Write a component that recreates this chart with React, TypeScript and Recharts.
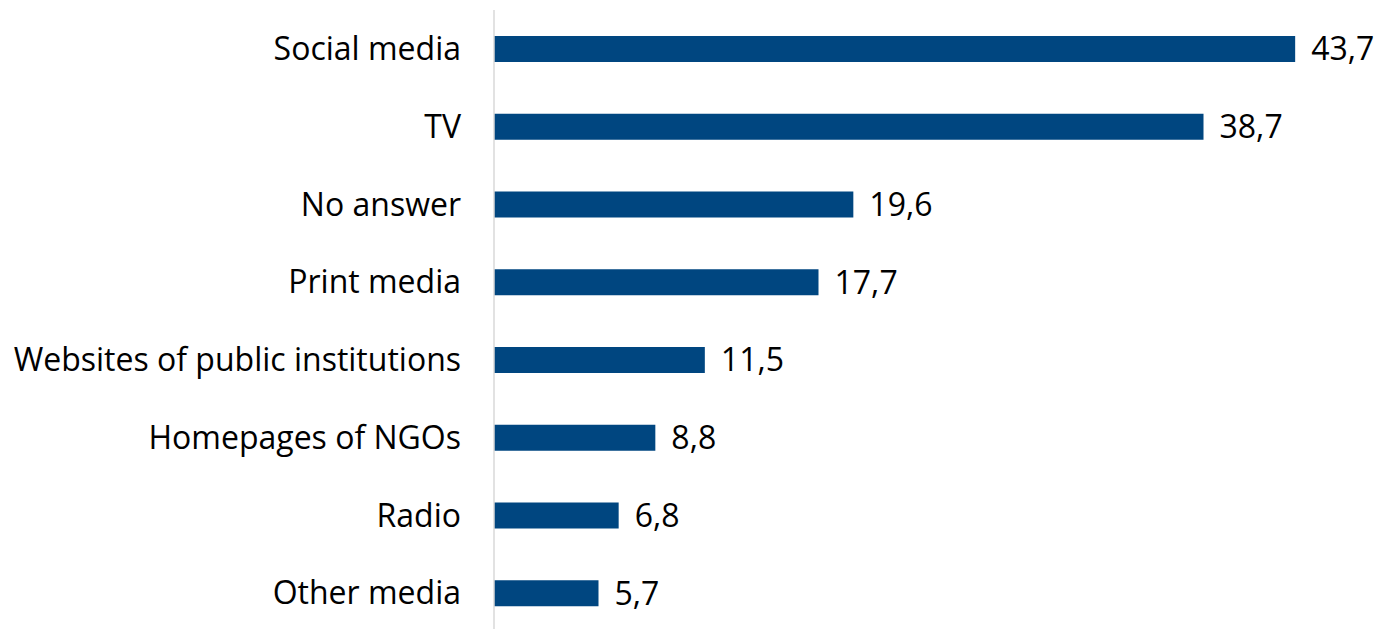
import { BarChart, Bar, XAxis, YAxis, LabelList } from 'recharts';

const categories = [
    'Social media',
    'TV',
    'No answer',
    'Print media',
    'Websites of public institutions',
    'Homepages of NGOs',
    'Radio',
    'Other media',
];
const values = [43.7, 38.7, 19.6, 17.7, 11.5, 8.8, 6.8, 5.7];

const data = categories.map((name, i) => ({ name, value: values[i] }));

const font = '"Open Sans", sans-serif';

export default function App() {
    return (
        <div style={{ position: 'absolute', left: 0, top: 0 }}>
            <BarChart
                width={1377}
                height={632}
                data={data}
                layout="vertical"
                margin={{ top: 10, right: 3, left: 0, bottom: 0 }}
            >
                <XAxis type="number" domain={[0, 48]} hide />
                <YAxis
                    type="category"
                    dataKey="name"
                    width={494}
                    axisLine={{ stroke: '#d9d9d9', strokeWidth: 1.5 }}
                    tickLine={false}
                    tickSize={0}
                    tickMargin={33}
                    tick={{ fill: '#000', fontSize: 32, fontFamily: font }}
                    interval={0}
                />
                <Bar dataKey="value" fill="#004680" barSize={26} isAnimationActive={false}>
                    <LabelList
                        dataKey="value"
                        position="right"
                        offset={16}
                        formatter={(v: number) => v.toFixed(1).replace('.', ',')}
                        style={{ fill: '#000', fontSize: 32, fontFamily: font }}
                    />
                </Bar>
            </BarChart>
        </div>
    );
}
